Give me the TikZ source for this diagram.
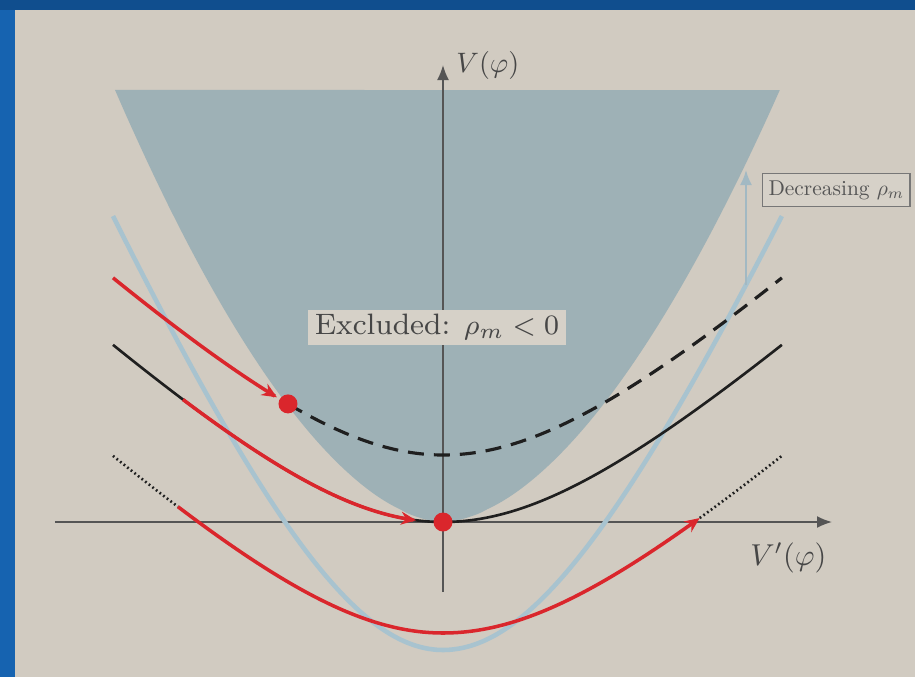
\documentclass[tikz,border=0pt]{standalone}
\usepackage{amsmath,amssymb}
\usepackage{xcolor}
\usetikzlibrary{arrows.meta,positioning}
\definecolor{slidebg}{RGB}{209,203,193}
\definecolor{frametop}{RGB}{16,78,142}
\definecolor{frameleft}{RGB}{22,99,176}
\definecolor{exclfill}{RGB}{158,177,182}
\definecolor{steepblue}{RGB}{168,195,207}
\definecolor{flowred}{RGB}{218,38,44}
\definecolor{axisgray}{RGB}{85,85,85}
\definecolor{labelgray}{RGB}{70,70,70}
\definecolor{boxfill}{RGB}{214,209,200}

\begin{document}
\begin{tikzpicture}[
    declare function={
      xs(\x)=(\x)*(1+0.027*((\x)>0));
      pot(\x)=sqrt(3.24+0.874*(\x)*(\x))-1.8;
      steep(\x)=sqrt(22.043+5.471*(\x)*(\x))-5.975;
      bound(\x)=4.32*pow(abs(\x)/3.28+0.0001,1.753);
    },
    every node/.style={font=\fontsize{10}{12}\selectfont, inner sep=1pt, text=labelgray},
    axisline/.style={draw=axisgray, line width=0.5pt, -{Latex[length=1.5mm,width=1.2mm]}},
    potline/.style={draw=black!88, line width=0.75pt},
    dashpot/.style={potline, line width=0.9pt, dash pattern=on 0.16cm off 0.1cm},
    dotpot/.style={potline, dash pattern=on 0.5pt off 0.8pt},
    redflow/.style={draw=flowred, line width=1pt, -{Stealth[length=1.5mm,width=1.3mm]}},
    steepline/.style={draw=steepblue, line width=1.3pt},
    reddot/.style={circle, fill=flowred, minimum size=0.19cm, inner sep=0pt},
    exclbox/.style={fill=boxfill, font=\fontsize{8.4}{10}\selectfont, minimum height=0.35cm, inner xsep=2pt},
    decbox/.style={draw=axisgray!80, fill=boxfill, line width=0.5pt, text=axisgray, scale=0.61, minimum height=0.54cm, inner xsep=2.8pt},
    plotopt/.style={smooth, samples=60, variable=\x}
]
\useasboundingbox (-4.43,-1.55) rectangle (4.72,5.22);
\fill[frameleft] (-4.43,-1.55) rectangle (4.72,5.22);
\fill[frametop] (-4.43,5.12) rectangle (4.72,5.22);
\fill[slidebg] (-4.28,-1.55) rectangle (4.72,5.12);

\fill[exclfill] plot[plotopt, samples=100, domain=-3.28:3.28] ({xs(\x)},{bound(\x)}) -- cycle;

\coordinate (O) at (0,0);
\coordinate (xl) at (-3.88,0);
\coordinate (xr) at (3.89,0);
\coordinate (yb) at (0,-0.70);
\coordinate (yt) at (0,4.57);
\draw[axisline] (xl) -- (xr);
\draw[axisline] (yb) -- (yt);
\node[right=0.1cm of yt, scale=0.8] (ylab) {$V(\varphi)$};
\node[below left=0.17cm and 0.02cm of xr, scale=0.86] (xlab) {$V'(\varphi)$};

\draw[steepline] plot[plotopt, domain=-3.30:3.30] ({xs(\x)},{steep(\x)});
\coordinate (decA) at (3.03,2.37);
\coordinate (decB) at (3.03,3.52);
\draw[draw=steepblue!85!gray, line width=0.6pt, -{Latex[length=1.5mm,width=1.2mm]}] (decA) -- (decB);
\node[decbox, below right=0.03cm and 0.16cm of decB] (dec) {Decreasing $\rho_m$};

\draw[dashpot] plot[plotopt, domain=-1.55:3.30] ({xs(\x)},{pot(\x)+0.67});
\draw[potline] plot[plotopt, domain=-3.30:3.30] ({xs(\x)},{pot(\x)});
\draw[dotpot] plot[plotopt, domain=-3.30:-2.65] ({xs(\x)},{pot(\x)-1.11});
\draw[dotpot] plot[plotopt, domain=2.50:3.30] ({xs(\x)},{pot(\x)-1.11});

\draw[redflow] plot[plotopt, domain=-3.30:-1.66] ({xs(\x)},{pot(\x)+0.67});
\draw[redflow] plot[plotopt, domain=-2.60:-0.27] ({xs(\x)},{pot(\x)});
\draw[redflow] plot[plotopt, domain=-2.65:2.50] ({xs(\x)},{pot(\x)-1.11});

\node[reddot] (dotA) at ({-1.55},{pot(-1.55)+0.67}) {};
\node[reddot] (dotB) at (O) {};

\node[exclbox] (excl) at (-0.06,1.95) {Excluded: $\rho_m<0$};
\end{tikzpicture}
\end{document}
